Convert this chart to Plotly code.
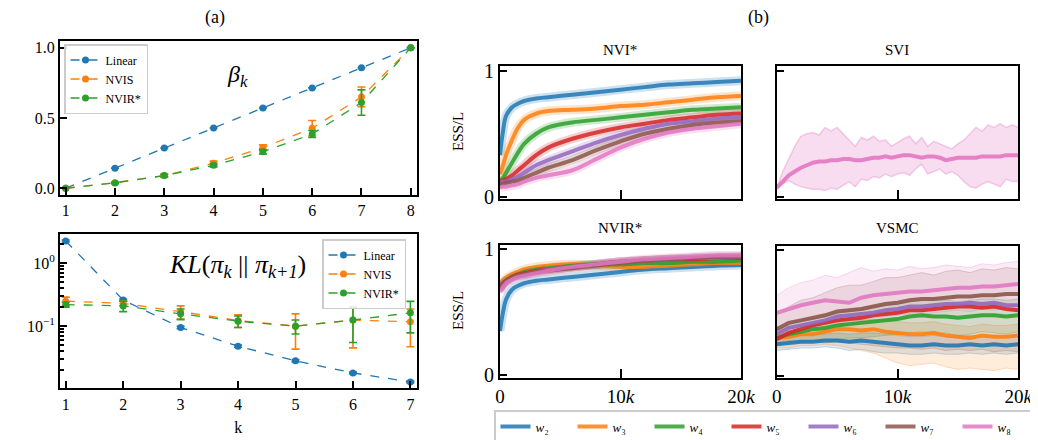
import plotly.graph_objects as go

# ---------------- data: panel (a) ----------------
k_beta = [1, 2, 3, 4, 5, 6, 7, 8]
beta_linear = [0.0, 0.143, 0.286, 0.429, 0.571, 0.714, 0.857, 1.0]
beta_linear_err = [0, 0, 0, 0, 0, 0, 0, 0]
beta_nvis = [0.0, 0.04, 0.09, 0.178, 0.289, 0.427, 0.65, 1.0]
beta_nvis_err = [0, 0.005, 0.01, 0.015, 0.02, 0.055, 0.07, 0]
beta_nvir = [0.0, 0.038, 0.09, 0.163, 0.26, 0.386, 0.61, 1.0]
beta_nvir_err = [0, 0.005, 0.01, 0.012, 0.015, 0.025, 0.09, 0]

k_kl = [1, 2, 3, 4, 5, 6, 7]
kl_linear = [2.27, 0.26, 0.095, 0.048, 0.028, 0.018, 0.0129]
kl_linear_err = [0.08, 0.01, 0.004, 0.002, 0.001, 0.0005, 0.0004]
kl_nvis = [0.25, 0.23, 0.17, 0.123, 0.10, 0.125, 0.117]
kl_nvis_err = [0.04, 0.02, 0.04, 0.028, 0.057, 0.08, 0.07]
kl_nvir = [0.22, 0.21, 0.157, 0.12, 0.10, 0.125, 0.163]
kl_nvir_err = [0.02, 0.04, 0.03, 0.025, 0.025, 0.07, 0.085]

# ---------------- data: panel (b) ----------------
series_names = ["w2", "w3", "w4", "w5", "w6", "w7", "w8"]
series_labels = ["<i>w</i>₂", "<i>w</i>₃", "<i>w</i>₄", "<i>w</i>₅",
                 "<i>w</i>₆", "<i>w</i>₇", "<i>w</i>₈"]
colors = ["#1f77b4", "#ff7f0e", "#2ca02c", "#d62728", "#9467bd", "#8c564b", "#e377c2"]

iters_smooth = [0, 250, 500, 1000, 1500, 2000, 3000, 4000, 6000, 8000,
                10000, 12000, 14000, 16000, 18000, 20000]

nvi_w2 = [0.33, 0.52, 0.64, 0.71, 0.74, 0.76, 0.78, 0.79, 0.81, 0.83, 0.85, 0.87, 0.89, 0.90, 0.91, 0.92]
nvi_w3 = [0.18, 0.25, 0.33, 0.45, 0.55, 0.61, 0.66, 0.68, 0.69, 0.70, 0.72, 0.73, 0.75, 0.77, 0.79, 0.80]
nvi_w4 = [0.12, 0.15, 0.19, 0.27, 0.35, 0.42, 0.50, 0.55, 0.59, 0.61, 0.63, 0.65, 0.67, 0.69, 0.70, 0.71]
nvi_w5 = [0.12, 0.13, 0.14, 0.17, 0.21, 0.25, 0.33, 0.39, 0.46, 0.51, 0.55, 0.58, 0.61, 0.63, 0.65, 0.66]
nvi_w6 = [0.11, 0.12, 0.12, 0.14, 0.16, 0.19, 0.25, 0.29, 0.36, 0.43, 0.49, 0.54, 0.58, 0.60, 0.62, 0.63]
nvi_w7 = [0.10, 0.10, 0.11, 0.12, 0.13, 0.15, 0.19, 0.23, 0.29, 0.37, 0.44, 0.50, 0.54, 0.57, 0.59, 0.60]
nvi_w8 = [0.07, 0.08, 0.08, 0.09, 0.10, 0.12, 0.15, 0.17, 0.21, 0.30, 0.39, 0.46, 0.51, 0.54, 0.56, 0.58]

nvir_w2 = [0.35, 0.50, 0.60, 0.68, 0.71, 0.73, 0.75, 0.76, 0.78, 0.80, 0.82, 0.84, 0.85, 0.86, 0.87, 0.875]
nvir_w3 = [0.70, 0.74, 0.77, 0.80, 0.82, 0.84, 0.86, 0.87, 0.88, 0.87, 0.86, 0.86, 0.87, 0.88, 0.89, 0.89]
nvir_w4 = [0.68, 0.72, 0.75, 0.78, 0.80, 0.82, 0.84, 0.85, 0.87, 0.88, 0.88, 0.89, 0.89, 0.90, 0.90, 0.91]
nvir_w5 = [0.70, 0.73, 0.75, 0.78, 0.80, 0.81, 0.83, 0.84, 0.86, 0.88, 0.90, 0.91, 0.92, 0.92, 0.93, 0.93]
nvir_w6 = [0.68, 0.72, 0.74, 0.77, 0.79, 0.80, 0.82, 0.84, 0.86, 0.88, 0.90, 0.91, 0.92, 0.93, 0.93, 0.94]
nvir_w7 = [0.70, 0.73, 0.75, 0.78, 0.79, 0.80, 0.82, 0.83, 0.85, 0.87, 0.89, 0.91, 0.92, 0.93, 0.94, 0.94]
nvir_w8 = [0.66, 0.70, 0.73, 0.76, 0.78, 0.79, 0.81, 0.83, 0.86, 0.88, 0.90, 0.92, 0.93, 0.94, 0.95, 0.95]

iters_svi = [0, 500, 1000, 1500, 2000, 2500, 3000, 3500, 4000, 4500, 5000, 5500, 6000, 6500,
             7000, 7500, 8000, 8500, 9000, 9500, 10000, 10500, 11000, 11500, 12000, 12500,
             13000, 13500, 14000, 14500, 15000, 15500, 16000, 16500, 17000, 17500, 18000,
             18500, 19000, 19500, 20000]
svi_w8 = [0.07, 0.12, 0.17, 0.20, 0.23, 0.25, 0.27, 0.28, 0.28, 0.29, 0.29, 0.30, 0.30, 0.29,
          0.29, 0.30, 0.31, 0.31, 0.32, 0.31, 0.32, 0.33, 0.33, 0.32, 0.31, 0.32, 0.32, 0.31,
          0.29, 0.30, 0.31, 0.31, 0.31, 0.31, 0.32, 0.32, 0.32, 0.32, 0.33, 0.33, 0.33]
svi_w8_high = [0.07, 0.20, 0.30, 0.40, 0.48, 0.50, 0.51, 0.49, 0.55, 0.52, 0.55, 0.50, 0.45, 0.40,
               0.47, 0.45, 0.48, 0.44, 0.45, 0.40, 0.43, 0.46, 0.48, 0.42, 0.47, 0.40, 0.44, 0.42,
               0.40, 0.38, 0.42, 0.45, 0.50, 0.55, 0.52, 0.57, 0.55, 0.58, 0.55, 0.57, 0.55]
svi_w8_low = [0.07, 0.10, 0.13, 0.10, 0.08, 0.07, 0.06, 0.06, 0.05, 0.07, 0.06, 0.09, 0.12, 0.08,
              0.14, 0.13, 0.16, 0.15, 0.18, 0.16, 0.18, 0.19, 0.17, 0.22, 0.26, 0.18, 0.20, 0.22,
              0.18, 0.20, 0.17, 0.12, 0.08, 0.07, 0.10, 0.12, 0.10, 0.08, 0.14, 0.12, 0.12]

iters_vsmc = [0, 1000, 2000, 3000, 4000, 5000, 6000, 7000, 8000, 9000, 10000,
              11000, 12000, 13000, 14000, 15000, 16000, 17000, 18000, 19000, 20000]
vsmc_w2 = [0.25, 0.26, 0.27, 0.27, 0.28, 0.28, 0.27, 0.28, 0.27, 0.26, 0.25, 0.24, 0.24, 0.25, 0.24, 0.24, 0.25, 0.24, 0.25, 0.24, 0.25]
vsmc_w3 = [0.30, 0.31, 0.33, 0.33, 0.35, 0.37, 0.37, 0.36, 0.37, 0.35, 0.34, 0.33, 0.33, 0.34, 0.32, 0.31, 0.30, 0.32, 0.31, 0.31, 0.32]
vsmc_w4 = [0.30, 0.33, 0.35, 0.37, 0.38, 0.40, 0.41, 0.42, 0.43, 0.44, 0.45, 0.47, 0.48, 0.47, 0.47, 0.46, 0.47, 0.48, 0.48, 0.47, 0.48]
vsmc_w5 = [0.29, 0.34, 0.37, 0.40, 0.42, 0.44, 0.45, 0.46, 0.48, 0.49, 0.50, 0.52, 0.52, 0.53, 0.54, 0.55, 0.55, 0.54, 0.55, 0.53, 0.52]
vsmc_w6 = [0.33, 0.38, 0.40, 0.42, 0.44, 0.47, 0.48, 0.49, 0.50, 0.52, 0.53, 0.55, 0.55, 0.56, 0.57, 0.57, 0.58, 0.57, 0.58, 0.56, 0.56]
vsmc_w7 = [0.37, 0.42, 0.44, 0.46, 0.48, 0.51, 0.52, 0.53, 0.55, 0.57, 0.58, 0.60, 0.61, 0.61, 0.62, 0.63, 0.63, 0.64, 0.64, 0.65, 0.65]
vsmc_w8 = [0.50, 0.53, 0.56, 0.58, 0.60, 0.59, 0.58, 0.62, 0.64, 0.65, 0.66, 0.67, 0.67, 0.68, 0.69, 0.70, 0.70, 0.71, 0.71, 0.72, 0.73]

vsmc_w2_low = [0.20, 0.21, 0.22, 0.22, 0.23, 0.22, 0.20, 0.21, 0.19, 0.18, 0.18, 0.17, 0.17, 0.18, 0.17, 0.17, 0.18, 0.17, 0.18, 0.17, 0.18]
vsmc_w2_high = [0.30, 0.31, 0.32, 0.33, 0.33, 0.34, 0.33, 0.34, 0.34, 0.33, 0.32, 0.31, 0.31, 0.32, 0.31, 0.31, 0.32, 0.31, 0.32, 0.31, 0.32]
vsmc_w3_low = [0.22, 0.22, 0.24, 0.24, 0.25, 0.24, 0.22, 0.20, 0.18, 0.14, 0.10, 0.08, 0.09, 0.10, 0.07, 0.05, 0.06, 0.05, 0.04, 0.06, 0.05]
vsmc_w3_high = [0.36, 0.37, 0.39, 0.40, 0.42, 0.44, 0.45, 0.44, 0.45, 0.44, 0.43, 0.42, 0.42, 0.43, 0.41, 0.40, 0.39, 0.41, 0.40, 0.40, 0.41]
vsmc_w4_low = [0.24, 0.26, 0.27, 0.28, 0.28, 0.29, 0.30, 0.30, 0.31, 0.32, 0.33, 0.34, 0.35, 0.33, 0.34, 0.32, 0.33, 0.35, 0.34, 0.33, 0.35]
vsmc_w4_high = [0.37, 0.41, 0.44, 0.46, 0.48, 0.50, 0.52, 0.53, 0.55, 0.56, 0.57, 0.59, 0.60, 0.60, 0.60, 0.59, 0.60, 0.61, 0.61, 0.60, 0.61]
vsmc_w7_low = [0.26, 0.28, 0.27, 0.27, 0.26, 0.27, 0.26, 0.25, 0.24, 0.23, 0.22, 0.22, 0.21, 0.22, 0.20, 0.21, 0.20, 0.21, 0.19, 0.20, 0.19]
vsmc_w7_high = [0.48, 0.55, 0.60, 0.62, 0.66, 0.70, 0.72, 0.72, 0.75, 0.78, 0.78, 0.80, 0.82, 0.80, 0.83, 0.84, 0.82, 0.85, 0.84, 0.86, 0.85]
vsmc_w8_low = [0.36, 0.38, 0.40, 0.42, 0.43, 0.42, 0.40, 0.44, 0.46, 0.47, 0.48, 0.49, 0.48, 0.50, 0.51, 0.52, 0.51, 0.53, 0.52, 0.54, 0.55]
vsmc_w8_high = [0.64, 0.70, 0.74, 0.76, 0.80, 0.78, 0.82, 0.86, 0.83, 0.85, 0.84, 0.87, 0.85, 0.86, 0.88, 0.87, 0.86, 0.89, 0.88, 0.90, 0.91]

x_ticks_iter = [0, 10000, 20000]
x_ticktext_iter = ["0", "10<i>k</i>", "20<i>k</i>"]

# ---------------- figure ----------------
# The page body has an 8px margin, so the figure is 8px smaller than the window
# and all reference pixel positions are shifted by 8.
OFF = 8
W, H = 1038 - OFF, 440 - OFF
FONT = "Liberation Serif"


def hx(px):
    return (px - OFF) / W


def vy(py):
    return 1 - (py - OFF) / H


fig = go.Figure()

dom = {
    "1": ([hx(60), hx(416.7)], [vy(195), vy(40.7)]),
    "2": ([hx(60), hx(416.7)], [vy(388.3), vy(234)]),
    "3": ([hx(500), hx(741)], [vy(199), vy(65.7)]),
    "4": ([hx(776.7), hx(1018.3)], [vy(199), vy(65.7)]),
    "5": ([hx(500), hx(741)], [vy(377.7), vy(245)]),
    "6": ([hx(776.7), hx(1018.3)], [vy(378.3), vy(245.7)]),
}

axis_common = dict(showline=True, linecolor="black", linewidth=2, mirror=True,
                    showgrid=False, zeroline=False, ticks="inside", tickcolor="black",
                    tickwidth=2, automargin=False,
                    tickfont=dict(family=FONT, size=16, color="black"))

layout = dict(width=W, height=H, margin=dict(l=0, r=0, t=0, b=0, autoexpand=False),
              paper_bgcolor="white", plot_bgcolor="white", showlegend=True,
              font=dict(family=FONT, color="black"))

for key, (dx, dy) in dom.items():
    xa = "xaxis" if key == "1" else f"xaxis{key}"
    ya = "yaxis" if key == "1" else f"yaxis{key}"
    layout[xa] = dict(domain=dx, anchor="y" if key == "1" else f"y{key}", **axis_common)
    layout[ya] = dict(domain=dy, anchor="x" if key == "1" else f"x{key}", **axis_common)

# Panel (a) top
layout["xaxis"].update(range=[0.885, 8.12], tickvals=k_beta, ticklen=7)
layout["yaxis"].update(range=[-0.048, 1.05], tickvals=[0, 0.5, 1.0],
                       ticktext=["0.0", "0.5", "1.0"], ticklen=7)
# Panel (a) bottom
layout["xaxis2"].update(range=[0.9, 7.11], tickvals=k_kl, ticklen=7,
                        title=dict(text="k", font=dict(family=FONT, size=16), standoff=10))
layout["yaxis2"].update(type="log", range=[-1.99, 0.467], tickvals=[1, 0.1],
                        ticktext=["10<sup>0</sup>", "10<sup>−1</sup>"], ticklen=7,
                        minor=dict(ticks="inside", ticklen=4, tickwidth=1.5, tickcolor="black",
                                   tickmode="array",
                                   tickvals=[0.02, 0.03, 0.04, 0.05, 0.06, 0.07, 0.08, 0.09,
                                             0.2, 0.3, 0.4, 0.5, 0.6, 0.7, 0.8, 0.9, 2]))
# Panel (b)
for key in ["3", "4", "5", "6"]:
    layout[f"xaxis{key}"].update(range=[0, 20000], tickvals=x_ticks_iter,
                                 ticktext=x_ticktext_iter, ticklen=9,
                                 tickfont=dict(family=FONT, size=19, color="black"))
    layout[f"yaxis{key}"].update(tickvals=[0, 1], ticklen=7,
                                 tickfont=dict(family=FONT, size=20, color="black"))
for key in ["3", "4"]:
    layout[f"xaxis{key}"].update(showticklabels=False)
    layout[f"yaxis{key}"].update(range=[-0.018, 1.04])
for key in ["5", "6"]:
    layout[f"yaxis{key}"].update(range=[-0.021, 1.034])
for key in ["4", "6"]:
    layout[f"yaxis{key}"].update(showticklabels=False)

fig.update_layout(**layout)


def add_err_trace(x, y, err, color, name, xa, ya, legend):
    fig.add_trace(go.Scatter(
        x=x, y=y, name=name, mode="lines+markers", xaxis=xa, yaxis=ya, legend=legend,
        line=dict(color=color, width=1.3, dash="dash"),
        marker=dict(color=color, size=7),
        error_y=dict(type="data", array=err, color=color, thickness=1.6, width=4, visible=True),
    ))


add_err_trace(k_beta, beta_linear, beta_linear_err, colors[0], "Linear", "x", "y", "legend")
add_err_trace(k_beta, beta_nvis, beta_nvis_err, colors[1], "NVIS", "x", "y", "legend")
add_err_trace(k_beta, beta_nvir, beta_nvir_err, colors[2], "NVIR*", "x", "y", "legend")
add_err_trace(k_kl, kl_linear, kl_linear_err, colors[0], "Linear", "x2", "y2", "legend2")
add_err_trace(k_kl, kl_nvis, kl_nvis_err, colors[1], "NVIS", "x2", "y2", "legend2")
add_err_trace(k_kl, kl_nvir, kl_nvir_err, colors[2], "NVIR*", "x2", "y2", "legend2")

nvi_all = [nvi_w2, nvi_w3, nvi_w4, nvi_w5, nvi_w6, nvi_w7, nvi_w8]
nvir_all = [nvir_w2, nvir_w3, nvir_w4, nvir_w5, nvir_w6, nvir_w7, nvir_w8]
vsmc_all = [vsmc_w2, vsmc_w3, vsmc_w4, vsmc_w5, vsmc_w6, vsmc_w7, vsmc_w8]
vsmc_bands = {0: (vsmc_w2_low, vsmc_w2_high), 1: (vsmc_w3_low, vsmc_w3_high),
              2: (vsmc_w4_low, vsmc_w4_high), 5: (vsmc_w7_low, vsmc_w7_high),
              6: (vsmc_w8_low, vsmc_w8_high)}


def hex_rgba(h, a):
    h = h.lstrip("#")
    return f"rgba({int(h[0:2], 16)},{int(h[2:4], 16)},{int(h[4:6], 16)},{a})"


# faint halos for smooth panels
for xa, ya, data in [("x3", "y3", nvi_all), ("x5", "y5", nvir_all)]:
    for i, ys in enumerate(data):
        fig.add_trace(go.Scatter(x=iters_smooth, y=ys, mode="lines", xaxis=xa, yaxis=ya,
                                 legend="legend3",
                                 line=dict(color=hex_rgba(colors[i], 0.22), width=9, shape="spline"),
                                 showlegend=False, hoverinfo="skip"))
for i, ys in enumerate(nvi_all):
    fig.add_trace(go.Scatter(x=iters_smooth, y=ys, mode="lines", xaxis="x3", yaxis="y3",
                             name=series_labels[i], legend="legend3",
                             line=dict(color=hex_rgba(colors[i], 0.85), width=4, shape="spline"),
                             showlegend=True))
for i, ys in enumerate(nvir_all):
    fig.add_trace(go.Scatter(x=iters_smooth, y=ys, mode="lines", xaxis="x5", yaxis="y5",
                             legend="legend3",
                             line=dict(color=hex_rgba(colors[i], 0.85), width=4, shape="spline"),
                             showlegend=False))

# SVI
fig.add_trace(go.Scatter(x=iters_svi, y=svi_w8_high, mode="lines", xaxis="x4", yaxis="y4",
                         legend="legend3",
                         line=dict(color=hex_rgba(colors[6], 0.35), width=1.5),
                         showlegend=False, hoverinfo="skip"))
fig.add_trace(go.Scatter(x=iters_svi, y=svi_w8_low, mode="lines", xaxis="x4", yaxis="y4",
                         legend="legend3",
                         line=dict(color=hex_rgba(colors[6], 0.35), width=1.5),
                         fill="tonexty", fillcolor=hex_rgba(colors[6], 0.25),
                         showlegend=False, hoverinfo="skip"))
fig.add_trace(go.Scatter(x=iters_svi, y=svi_w8, mode="lines", xaxis="x4", yaxis="y4",
                         legend="legend3",
                         line=dict(color=hex_rgba(colors[6], 0.9), width=4),
                         showlegend=False))

# VSMC bands
for i, (lo, hi) in vsmc_bands.items():
    fig.add_trace(go.Scatter(x=iters_vsmc, y=hi, mode="lines", xaxis="x6", yaxis="y6",
                             legend="legend3",
                             line=dict(color=hex_rgba(colors[i], 0.25), width=1),
                             showlegend=False, hoverinfo="skip"))
    fig.add_trace(go.Scatter(x=iters_vsmc, y=lo, mode="lines", xaxis="x6", yaxis="y6",
                             legend="legend3",
                             line=dict(color=hex_rgba(colors[i], 0.25), width=1),
                             fill="tonexty", fillcolor=hex_rgba(colors[i], 0.15),
                             showlegend=False, hoverinfo="skip"))
for i, ys in enumerate(vsmc_all):
    fig.add_trace(go.Scatter(x=iters_vsmc, y=ys, mode="lines", xaxis="x6", yaxis="y6",
                             legend="legend3",
                             line=dict(color=hex_rgba(colors[i], 0.9), width=4),
                             showlegend=False))

legend_style = dict(bgcolor="rgba(255,255,255,0.85)", bordercolor="#cccccc", borderwidth=1.5,
                    font=dict(family=FONT, size=12, color="black"), tracegroupgap=0,
                    traceorder="normal")
fig.update_layout(
    legend=dict(x=hx(64), y=vy(44), xanchor="left", yanchor="top", **legend_style),
    legend2=dict(x=hx(322), y=vy(239), xanchor="left", yanchor="top", **legend_style),
    legend3=dict(x=hx(494), y=vy(410), xanchor="left", yanchor="top", orientation="h",
                 entrywidth=32, itemwidth=30, traceorder="normal", tracegroupgap=0,
                 bgcolor="white", bordercolor="#cccccc", borderwidth=1.5,
                 font=dict(family=FONT, size=13, color="black")),
)

ann = []


def add_text(x, y, text, size, angle=0):
    ann.append(dict(x=hx(x), y=vy(y), xref="paper", yref="paper", text=text, showarrow=False,
                    font=dict(family=FONT, size=size, color="black"), textangle=angle,
                    xanchor="center", yanchor="middle"))


add_text(215, 18, "(a)", 18)
add_text(758, 18, "(b)", 18)
add_text(620, 50, "NVI*", 15)
add_text(897, 50, "SVI", 15)
add_text(620, 228, "NVIR*", 15)
add_text(897, 228, "VSMC", 15)
add_text(458, 132, "ESS/L", 15, -90)
add_text(458, 311, "ESS/L", 15, -90)
add_text(237, 76, "<i>β<sub>k</sub></i>", 24)
add_text(237, 266, "<i>KL</i>(<i>π<sub>k</sub></i> || <i>π<sub>k+1</sub></i>)", 26)
fig.update_layout(annotations=ann)

fig.write_html("out.html")
